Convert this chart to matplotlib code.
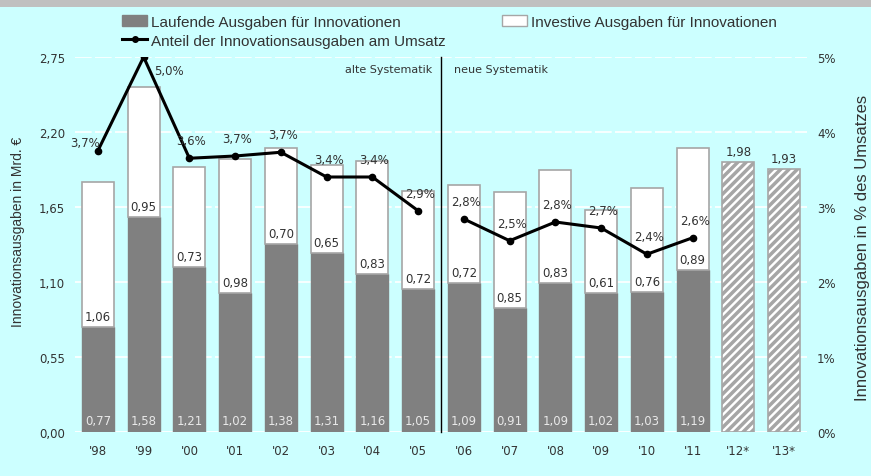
import matplotlib
matplotlib.use("Agg")
import matplotlib.pyplot as plt
import numpy as np
from matplotlib.patches import Patch, Rectangle
from matplotlib.lines import Line2D

years = ["'98", "'99", "'00", "'01", "'02", "'03", "'04", "'05",
         "'06", "'07", "'08", "'09", "'10", "'11", "'12*", "'13*"]
laufende = [0.77, 1.58, 1.21, 1.02, 1.38, 1.31, 1.16, 1.05,
            1.09, 0.91, 1.09, 1.02, 1.03, 1.19]
investive = [1.06, 0.95, 0.73, 0.98, 0.70, 0.65, 0.83, 0.72,
             0.72, 0.85, 0.83, 0.61, 0.76, 0.89]
forecast = [1.98, 1.93]
share_alt = [3.75, 5.0, 3.65, 3.68, 3.73, 3.40, 3.40, 2.95]
share_neu = [2.84, 2.55, 2.80, 2.72, 2.37, 2.59]
share_labels = ["3,7%", "5,0%", "3,6%", "3,7%", "3,7%", "3,4%", "3,4%", "2,9%",
                "2,8%", "2,5%", "2,8%", "2,7%", "2,4%", "2,6%"]

BG = "#ccffff"
DARK = "#808080"
EDGE = "#a6a6a6"
TXT = "#333333"

plt.rcParams['hatch.linewidth'] = 2.5
plt.rcParams['hatch.color'] = "#8f8f8f"

fig = plt.figure(figsize=(8.71, 4.77), dpi=100, facecolor=BG)
# top gray band
fig.patches.append(Rectangle((0, 1 - 8/477), 1, 8/477, transform=fig.transFigure,
                             facecolor="#c0c0c0", edgecolor="none"))

ax = fig.add_axes([75/871, 1 - 433/477, 732/871, 375/477])
ax.set_facecolor(BG)
for s in ax.spines.values():
    s.set_visible(False)

n = len(laufende)
x = np.arange(n)
w = 0.70
ax.set_xlim(-0.5, len(years) - 0.5)
ax.set_ylim(0, 2.75)

# grid
yt = [0, 0.55, 1.10, 1.65, 2.20, 2.75]
for v in yt[1:]:
    ax.axhline(v, color="white", lw=1.2, ls=(0, (10, 2)), zorder=0.5)
ax.axhline(0, color="white", lw=2, zorder=0.5)

ax.bar(x, laufende, w, color=DARK, edgecolor=DARK, lw=1, zorder=2)
ax.bar(x, investive, w, bottom=laufende, color="white", edgecolor=EDGE, lw=1.2, zorder=2)
xf = np.arange(n, n + len(forecast))
ax.bar(xf, forecast, w, color="white", edgecolor=EDGE, lw=1.2, hatch="////", zorder=2)

fmt = lambda v: f"{v:.2f}".replace(".", ",")
for i in range(n):
    ax.text(x[i], 0.04, fmt(laufende[i]), ha="center", va="bottom",
            fontsize=8.5, color="#e8e8e8", zorder=5)
    ax.annotate(fmt(investive[i]), (x[i], laufende[i]), xytext=(0, 4),
                textcoords="offset pixels", ha="center", va="bottom",
                fontsize=8.5, color=TXT, zorder=5)
for i in range(len(forecast)):
    ax.annotate(fmt(forecast[i]), (xf[i], forecast[i]), xytext=(0, 4),
                textcoords="offset pixels", ha="center", va="bottom",
                fontsize=8.5, color=TXT, zorder=5)

# share line on secondary axis
ax2 = ax.twinx()
for s in ax2.spines.values():
    s.set_visible(False)
ax2.set_ylim(0, 5)
xa = np.arange(len(share_alt))
xn = np.arange(len(share_alt), len(share_alt) + len(share_neu))
ax2.plot(xa, share_alt, color="black", lw=2.2, marker="o", ms=4.5, zorder=6)
ax2.plot(xn, share_neu, color="black", lw=2.2, marker="o", ms=4.5, zorder=6)
allx = list(xa) + list(xn)
ally = share_alt + share_neu
for i, (xx, yy, lab) in enumerate(zip(allx, ally, share_labels)):
    if i == 0:
        off, ha, va = (2, 2), "right", "bottom"
    elif i == 1:
        off, ha, va = (10, -14), "left", "center"
    else:
        off, ha, va = (2, 11), "center", "bottom"
    ax2.annotate(lab, (xx, yy), xytext=off, textcoords="offset pixels",
                 ha=ha, va=va, fontsize=8.5, color=TXT, zorder=7)

# separator
sep = len(share_alt) - 0.5
ax.plot([sep, sep], [0, 2.75], color="black", lw=1, zorder=4, clip_on=False)
ax.annotate("alte Systematik", (sep, 2.66), xytext=(-9, 0), textcoords="offset pixels",
            ha="right", va="center", fontsize=8, color=TXT)
ax.annotate("neue Systematik", (sep, 2.66), xytext=(13, 0), textcoords="offset pixels",
            ha="left", va="center", fontsize=8, color=TXT)

# ticks
ax.set_yticks(yt)
ax.set_yticklabels([f"{v:.2f}".replace(".", ",") for v in yt], fontsize=8.5, color=TXT)
ax.tick_params(axis="y", length=0, pad=7.2)
ax.set_xticks(np.arange(len(years)))
ax.set_xticklabels(years, fontsize=8.5, color=TXT)
ax.tick_params(axis="x", length=0, pad=9)
ax2.set_yticks([0, 1, 2, 3, 4, 5])
ax2.set_yticklabels([f"{v}%" for v in range(6)], fontsize=8.5, color=TXT)
ax2.tick_params(axis="y", length=0, pad=7.2)

fig.text(18/871, 1 - 232/477, "Innovationsausgaben in Mrd. €", rotation=90,
         ha="center", va="center", fontsize=10, color=TXT, family="Liberation Sans")
fig.text(862/871, 1 - 248/477, "Innovationsausgaben in % des Umsatzes", rotation=90,
         ha="center", va="center", fontsize=12, color=TXT, family="Liberation Sans")

handles = [Patch(facecolor=DARK, edgecolor=DARK),
           Line2D([0], [0], color="black", lw=2.2, marker="o", ms=4),
           Patch(facecolor="white", edgecolor=EDGE)]
labels = ["Laufende Ausgaben für Innovationen",
          "Anteil der Innovationsausgaben am Umsatz",
          "Investive Ausgaben für Innovationen"]
leg = fig.legend(handles, labels, ncol=2, loc="upper left",
                 bbox_to_anchor=(122/871, 1 - 16/477), frameon=False,
                 prop={"family": "Liberation Sans", "size": 11},
                 handlelength=1.65, handletextpad=0.27, columnspacing=3.66,
                 labelspacing=0.3, borderpad=0, borderaxespad=0)
for t in leg.get_texts():
    t.set_color(TXT)

fig.savefig("out.png", dpi=100, facecolor=BG)
